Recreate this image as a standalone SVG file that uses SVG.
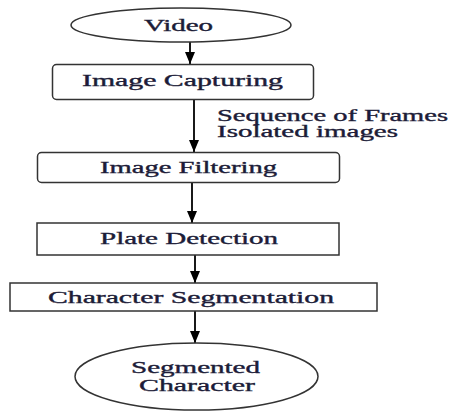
<svg xmlns="http://www.w3.org/2000/svg" width="453" height="412" viewBox="0 0 453 412">
  <defs>
    <marker id="arrow" markerWidth="12" markerHeight="10" refX="12" refY="5" orient="auto" markerUnits="userSpaceOnUse">
      <path d="M0,0 L12,5 L0,10 Z" fill="#000"/>
    </marker>
  </defs>
  <style>
    .shape { fill: #fff; stroke: #333; stroke-width: 1.5; }
    .edge { stroke: #000; stroke-width: 1.8; fill: none; marker-end: url(#arrow); }
    .lbl { font-size: 16px; fill: #1c1c38; stroke: #1c1c38; stroke-width: 0.35; }
  </style>
  <rect width="453" height="412" fill="#fff"/>

  <g id="connectors">
    <line class="edge" x1="190" y1="42" x2="190" y2="64"/>
    <line class="edge" x1="194" y1="100" x2="194" y2="152"/>
    <line class="edge" x1="192" y1="183" x2="192" y2="223"/>
    <line class="edge" x1="195" y1="255" x2="195" y2="283"/>
    <line class="edge" x1="195" y1="311" x2="195" y2="343"/>
  </g>

  <g font-family="Liberation Serif, Times New Roman, serif">
    <g id="video">
      <ellipse class="shape" cx="181" cy="25" rx="110" ry="17"/>
      <text class="lbl" x="144" y="31" textLength="69" lengthAdjust="spacingAndGlyphs">Video</text>
    </g>

    <g id="image-capturing">
      <rect class="shape" x="52.5" y="64.5" width="261" height="35" rx="4"/>
      <text class="lbl" x="82" y="86" textLength="201" lengthAdjust="spacingAndGlyphs">Image Capturing</text>
    </g>

    <g id="frames-label">
      <text class="lbl" x="217" y="121" textLength="231" lengthAdjust="spacingAndGlyphs">Sequence of Frames</text>
      <text class="lbl" x="217" y="137" textLength="181" lengthAdjust="spacingAndGlyphs">Isolated images</text>
    </g>

    <g id="image-filtering">
      <rect class="shape" x="37.5" y="152.5" width="302" height="30" rx="4"/>
      <text class="lbl" x="100" y="173" textLength="177" lengthAdjust="spacingAndGlyphs">Image Filtering</text>
    </g>

    <g id="plate-detection">
      <rect class="shape" x="37" y="223" width="302" height="32"/>
      <text class="lbl" x="100" y="244" textLength="178" lengthAdjust="spacingAndGlyphs">Plate Detection</text>
    </g>

    <g id="character-segmentation">
      <rect class="shape" x="10" y="283" width="367" height="28"/>
      <text class="lbl" x="48" y="303" textLength="286" lengthAdjust="spacingAndGlyphs">Character Segmentation</text>
    </g>

    <g id="segmented-character">
      <ellipse class="shape" cx="196.5" cy="376.5" rx="121.5" ry="33.5"/>
      <text class="lbl" x="131" y="373" textLength="129" lengthAdjust="spacingAndGlyphs">Segmented</text>
      <text class="lbl" x="139" y="391" textLength="116" lengthAdjust="spacingAndGlyphs">Character</text>
    </g>
  </g>
</svg>
